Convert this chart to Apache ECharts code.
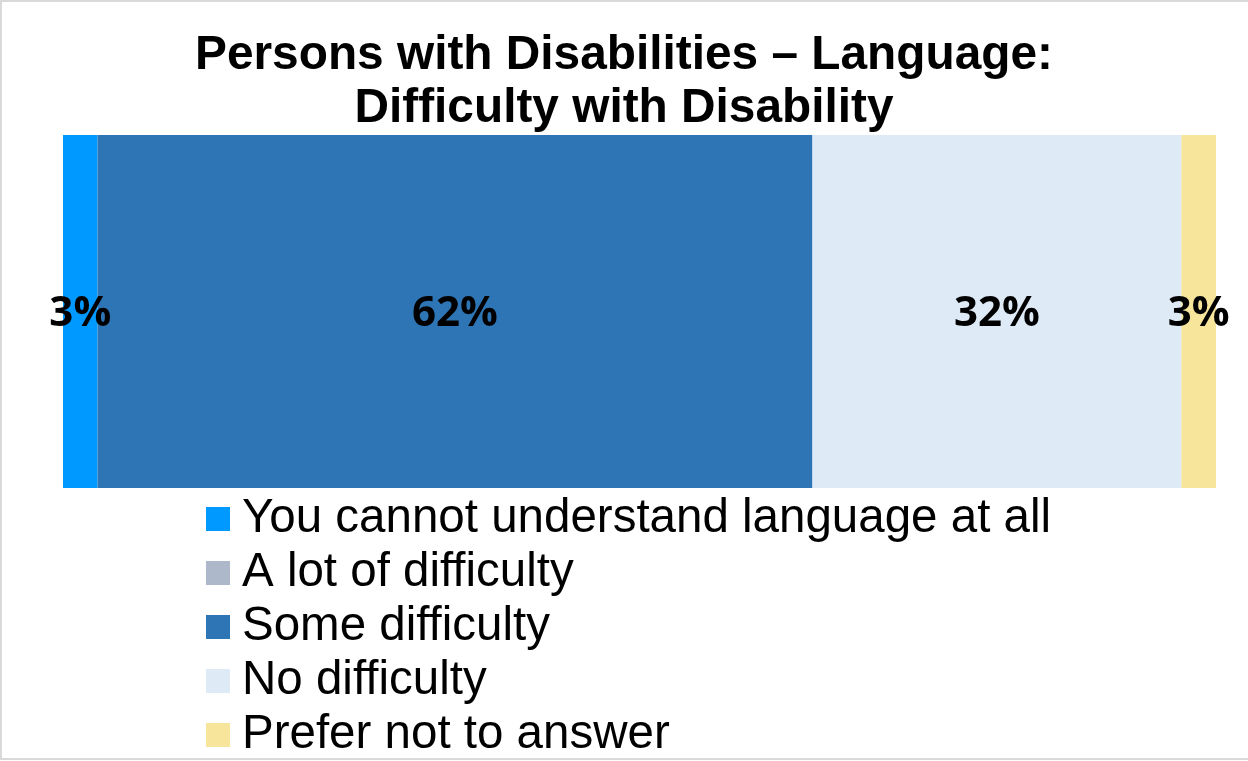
<!DOCTYPE html>
<html>
<head>
<meta charset="utf-8">
<script src="https://cdn.jsdelivr.net/npm/echarts@6/dist/echarts.min.js"></script>
<style>
  html, body { margin: 0; padding: 0; background: #ffffff; }
  #chart { width: 1248px; height: 761px; }
</style>
</head>
<body>
<div id="chart"></div>
<script>
// Single survey question, responses as shares of 100%
const categories = ['Language'];
const seriesNames = [
  'You cannot understand language at all',
  'A lot of difficulty',
  'Some difficulty',
  'No difficulty',
  'Prefer not to answer'
];
const seriesValues = [3, 0, 62, 32, 3];
const seriesColors = ['#0099FF', '#ADB9CA', '#2E75B6', '#DEEAF6', '#F7E59B'];

const chart = echarts.init(document.getElementById('chart'), null, { renderer: 'canvas' });

const series = seriesNames.map((name, i) => ({
  name: name,
  type: 'bar',
  stack: 'total',
  barWidth: '100%',
  data: categories.map(() => seriesValues[i]),
  itemStyle: { color: seriesColors[i] },
  label: {
    show: true,
    position: 'inside',
    offset: [0, 3],
    formatter: p => (p.value > 0 ? p.value + '%' : ''),
    color: '#000000',
    fontFamily: 'Open Sans',
    fontWeight: 'bold',
    fontSize: 42
  },
  emphasis: { disabled: true }
}));

chart.setOption({
  animation: false,
  title: {
    text: 'Persons with Disabilities \u2013 Language:\nDifficulty with Disability',
    left: 'center',
    top: 24,
    textStyle: {
      fontFamily: 'Liberation Sans',
      fontWeight: 'bold',
      fontSize: 47.8,
      lineHeight: 53,
      color: '#000000'
    }
  },
  legend: {
    orient: 'vertical',
    left: 206,
    top: 492,
    height: 400,
    padding: 0,
    itemGap: 0,
    itemWidth: 24,
    itemHeight: 24,
    icon: 'rect',
    selectedMode: false,
    data: seriesNames,
    textStyle: {
      fontFamily: 'Liberation Sans',
      fontSize: 47.5,
      lineHeight: 50,
      color: '#000000',
      padding: [4, 0, 0, 7]
    }
  },
  grid: { left: 63, right: 32, top: 135, bottom: 273, containLabel: false },
  xAxis: {
    type: 'value',
    min: 0,
    max: 100,
    show: false
  },
  yAxis: {
    type: 'category',
    data: categories,
    show: false
  },
  graphic: [{
    type: 'rect',
    shape: { x: 1, y: 1, width: 1270, height: 758 },
    style: { fill: 'none', stroke: '#d9d9d9', lineWidth: 2 },
    silent: true
  }],
  series: series
});
</script>
</body>
</html>
